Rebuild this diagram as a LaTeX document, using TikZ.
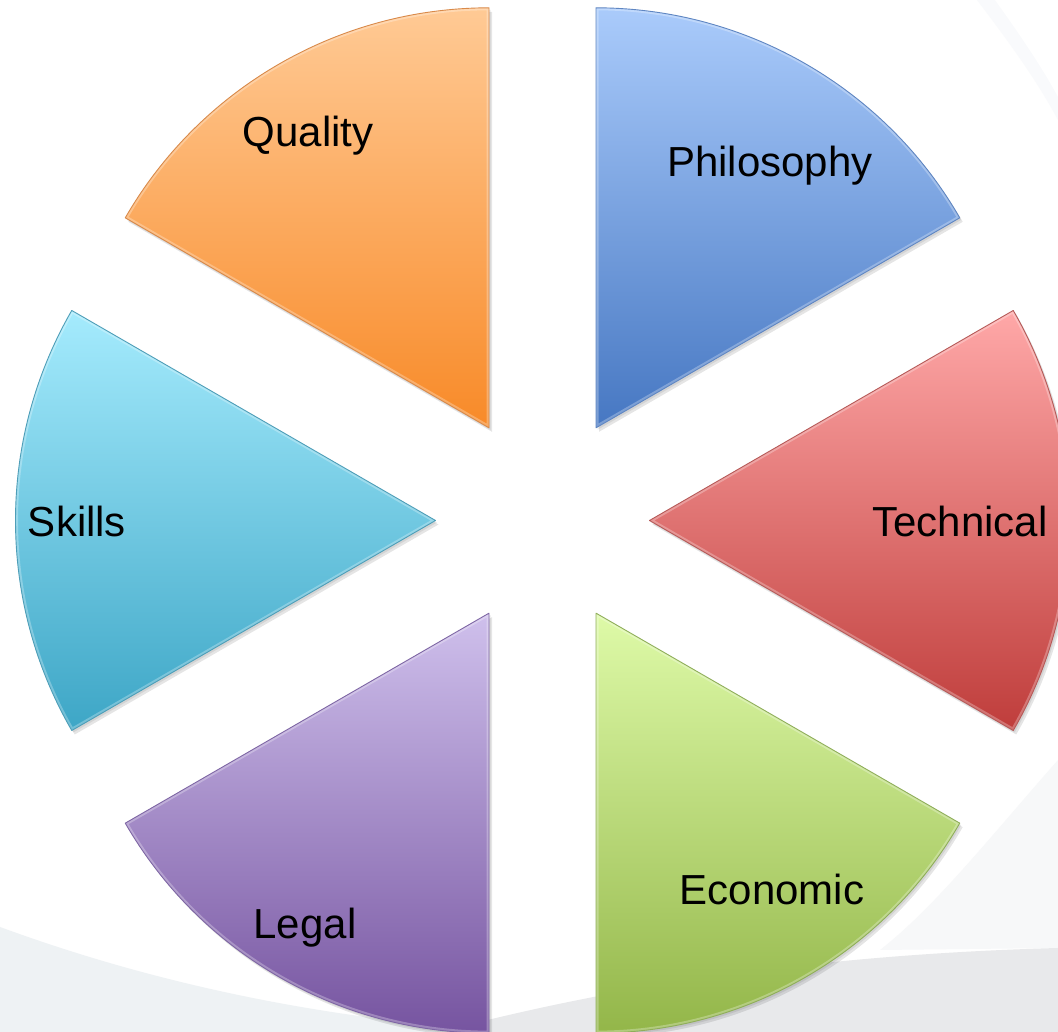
\documentclass[tikz,border=0pt]{standalone}
\usepackage{fontspec}
\setmainfont{Liberation Sans}
\definecolor{phT}{HTML}{AACBFB}
\definecolor{phB}{HTML}{4677C2}
\definecolor{phO}{HTML}{5F86C2}
\definecolor{teT}{HTML}{FFA8A8}
\definecolor{teB}{HTML}{BF3D3B}
\definecolor{teO}{HTML}{B65A58}
\definecolor{ecT}{HTML}{DEFAA8}
\definecolor{ecB}{HTML}{93B649}
\definecolor{ecO}{HTML}{8FAE5A}
\definecolor{leT}{HTML}{CFC0EC}
\definecolor{leB}{HTML}{7654A0}
\definecolor{leO}{HTML}{7E66A4}
\definecolor{skT}{HTML}{A5EBFD}
\definecolor{skB}{HTML}{3DA6C6}
\definecolor{skO}{HTML}{4E9EB8}
\definecolor{quT}{HTML}{FFCA95}
\definecolor{quB}{HTML}{F88A28}
\definecolor{quO}{HTML}{D98A4A}
\definecolor{bgA}{HTML}{EEF2F4}
\definecolor{bgB}{HTML}{E8E9EB}
\definecolor{bgC}{HTML}{F7F8F9}
\definecolor{bgD}{HTML}{F9FAFC}
\newcommand\piepiece[5]{%
  \path (542.5,511.5) ++(#1:107) coordinate (#5);
  \fill[black,opacity=0.10] ([shift={(3,-4)}]#5) -- ++(#1-30:420) arc[start angle=#1-30,end angle=#1+30,radius=420] -- cycle;
  \fill[black,opacity=0.08] ([shift={(1.5,-2)}]#5) -- ++(#1-30:420) arc[start angle=#1-30,end angle=#1+30,radius=420] -- cycle;
  \shade[top color=#2,bottom color=#3] (#5) -- ++(#1-30:420) arc[start angle=#1-30,end angle=#1+30,radius=420] -- cycle;
  \begin{scope}
    \clip (#5) -- ++(#1-30:420) arc[start angle=#1-30,end angle=#1+30,radius=420] -- cycle;
    \draw[white,opacity=0.28,line width=5] (#5) -- ++(#1-30:420) arc[start angle=#1-30,end angle=#1+30,radius=420] -- cycle;
  \end{scope}
  \draw[#4,line width=0.9,line join=round] (#5) -- ++(#1-30:420) arc[start angle=#1-30,end angle=#1+30,radius=420] -- cycle;
}
\begin{document}
\begin{tikzpicture}[x=1pt,y=1pt,
  lbl/.style={font=\fontsize{42}{50}\selectfont, anchor=base, inner sep=0pt, text=black}]
\useasboundingbox (0,0) rectangle (1058,1032);
\clip (0,0) rectangle (1058,1032);
\fill[white] (0,0) rectangle (1058,1032);
% background swooshes
\fill[bgD] (977,1032) .. controls (1005,995) and (1035,955) .. (1058,912) -- (1058,1032) -- cycle;
\fill[white] (995,1032) .. controls (1018,1000) and (1042,965) .. (1058,935) -- (1058,1032) -- cycle;
\fill[bgC] (1058,272) .. controls (990,195) and (935,125) .. (880,82) -- (1058,84) -- cycle;
\fill[bgA] (0,105) .. controls (150,50) and (320,12) .. (520,0) -- (0,0) -- cycle;
\fill[bgB] (440,0) .. controls (600,42) and (800,77) .. (1058,84) -- (1058,0) -- cycle;
% wedges
\piepiece{60}{phT}{phB}{phO}{wph}
\piepiece{0}{teT}{teB}{teO}{wte}
\piepiece{-60}{ecT}{ecB}{ecO}{wec}
\piepiece{-120}{leT}{leB}{leO}{wle}
\piepiece{180}{skT}{skB}{skO}{wsk}
\piepiece{120}{quT}{quB}{quO}{wqu}
% labels
\node[lbl] (lph) at (770,855) {Philosophy};
\node[lbl] (lqu) at (308,885) {Quality};
\node[lbl] (lte) at (960,495) {Technical};
\node[lbl] (lsk) at (77,495) {Skills};
\node[lbl] (lec) at (772,127) {Economic};
\node[lbl] (lle) at (305,93) {Legal};
\end{tikzpicture}
\end{document}
